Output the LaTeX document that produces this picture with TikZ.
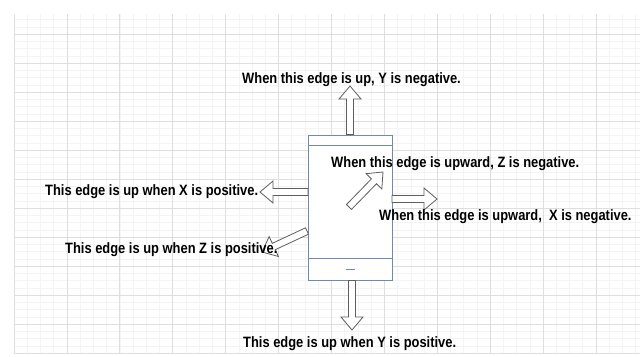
\documentclass[tikz,border=0pt]{standalone}
\usepackage{fontspec}
\setmainfont{Liberation Sans}[FakeStretch=0.86]
\usetikzlibrary{calc}
\definecolor{gridmaj}{HTML}{DEDEDE}
\definecolor{gridmin}{HTML}{F4F4F4}
\definecolor{phoneblue}{HTML}{7089AE}
\definecolor{arrowgrey}{HTML}{5E5E5E}
\tikzset{
  barrow/.style={draw=arrowgrey, fill=white, line width=0.8pt, line join=miter},
  phonebox/.style={draw=phoneblue, fill=white, line width=0.9pt, minimum width=84pt, minimum height=145pt, inner sep=0pt},
  phoneline/.style={draw=phoneblue, line width=0.9pt},
  lbl/.style={inner sep=0pt, anchor=base west, font=\bfseries\fontsize{15}{17}\selectfont},
}
\newcommand\blockarrow[2]{%
  \coordinate (hb) at ($(#2)!13pt!(#1)$);
  \draw[barrow] ($(#1)!3.5pt!90:(#2)$) -- ($(hb)!3.5pt!-90:(#1)$) -- ($(hb)!11pt!-90:(#1)$) -- (#2) -- ($(hb)!11pt!90:(#1)$) -- ($(hb)!3.5pt!90:(#1)$) -- ($(#1)!3.5pt!-90:(#2)$) -- cycle;}
\begin{document}
\begin{tikzpicture}[x=1pt,y=-1pt]
\useasboundingbox (0,0) rectangle (644,356);
\fill[white] (0,0) rectangle (644,356);
% grid
\foreach \i in {0,...,47} \draw[gridmin, line width=0.5pt] ({14+13.225*\i},14) -- ({14+13.225*\i},354);
\foreach \k in {-2,...,43} \draw[gridmin, line width=0.5pt] (14,{34+7.25*\k}) -- (640,{34+7.25*\k});
\foreach \i in {0,...,11} \draw[gridmaj, line width=0.8pt] ({14+52.9*\i},14) -- ({14+52.9*\i},354);
\foreach \k in {0,...,11} \draw[gridmaj, line width=0.8pt] (14,{34+29*\k}) -- (640,{34+29*\k});
% phone
\node[phonebox] (phone) at (350,207.5) {};
\draw[phoneline] ($(phone.north west)+(0,11)$) -- ($(phone.north east)+(0,11)$);
\draw[phoneline] ($(phone.south west)+(0,-22)$) -- ($(phone.south east)+(0,-22)$);
\draw[phoneline] ($(phone.south)+(-4.5,-11)$) -- ($(phone.south)+(4.5,-11)$);
% arrow ends
\coordinate (topT) at (phone.north);
\coordinate (topH) at (350,86);
\coordinate (botT) at ($(phone.south)+(2,0)$);
\coordinate (botH) at (352,330);
\coordinate (rT) at (392,199);
\coordinate (rH) at (437,199);
\coordinate (lT) at (308,192);
\coordinate (lH) at (260,192);
\coordinate (llT) at (307,231);
\coordinate (llH) at (262,252);
\coordinate (dT) at (349,207);
\coordinate (dH) at (383,172);
\blockarrow{topT}{topH}
\blockarrow{botT}{botH}
\blockarrow{rT}{rH}
\blockarrow{lT}{lH}
\blockarrow{llT}{llH}
\blockarrow{dT}{dH}
% labels
\node[lbl] (ty) at (242,83) {When this edge is up, Y is negative.};
\node[lbl] (by) at (243,347) {This edge is up when Y is positive.};
\node[lbl] (tz) at (331,167) {When this edge is upward, Z is negative.};
\node[lbl] (tx) at (379,220) {When this edge is upward,\ \ X is negative.};
\node[lbl] (lx) at (45,195) {This edge is up when X is positive.};
\node[lbl] (lz) at (65,253) {This edge is up when Z is positive.};
\end{tikzpicture}
\end{document}
